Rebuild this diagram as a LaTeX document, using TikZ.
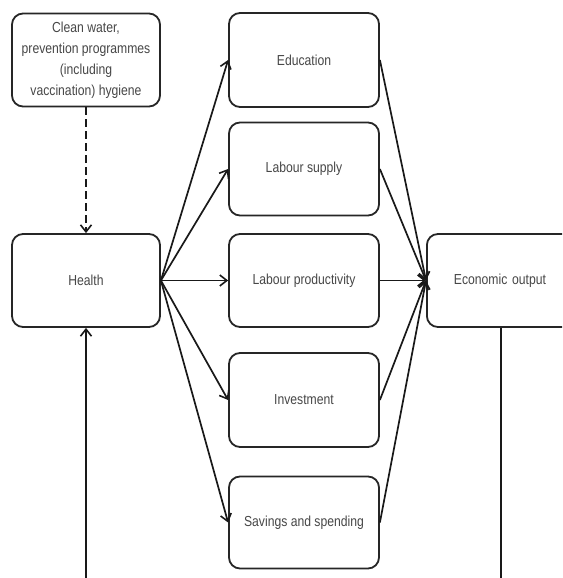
\documentclass[tikz,border=0pt]{standalone}
\usepackage{fontspec}
\setmainfont[FakeStretch=0.84]{Liberation Sans}
\usetikzlibrary{arrows.meta}
\begin{document}
\begin{tikzpicture}[x=1pt,y=-1pt,
  box/.style={draw=black!85, line width=1.8pt, rounded corners=11pt, fill=white,
    inner sep=0pt, align=center, text=black!72,
    font=\fontsize{14.5}{21}\selectfont},
  conn/.style={line width=1.7pt, draw=black!90, -{Straight Barb[length=7pt,width=11pt,line width=1.6pt]}},
  plainline/.style={line width=1.7pt, draw=black!90}]
\useasboundingbox (0,0) rectangle (562,578);
\clip (0,0) rectangle (562,578);
\node[box, minimum width=148pt, minimum height=93pt] (clean) at (86,60)
  {Clean water,\\prevention programmes\\(including\\vaccination) hygiene};
\node[box, minimum width=148pt, minimum height=93pt] (health) at (86,280.5) {Health};
\node[box, minimum width=150pt, minimum height=94pt] (edu) at (304,60) {Education};
\node[box, minimum width=150pt, minimum height=93pt] (lsup) at (304,169) {Labour supply};
\node[box, minimum width=150pt, minimum height=93pt] (lprod) at (304,280.5) {Labour productivity};
\node[box, minimum width=150pt, minimum height=94pt] (inv) at (304,400) {Investment};
\node[box, minimum width=150pt, minimum height=92pt] (sav) at (304,522.5) {Savings and spending};
\node[box, anchor=west, minimum width=170pt, text width=170pt, align=left,
  minimum height=93pt] (eco) at (426,280.5) {\hspace*{27pt}Economic output};
\coordinate (bl) at (86,582);
\coordinate (br) at (501,582);
\draw[conn, dash pattern=on 8pt off 4pt] (clean.south) -- (health.north);
\foreach \n in {edu,lsup,lprod,inv,sav}{
  \draw[conn] (health.east) -- (\n.west);
  \draw[conn] (\n.east) -- (eco.west);
}
\draw[conn] (bl) -- (health.south);
\draw[plainline] (eco.south -| br) -- (br);
\end{tikzpicture}
\end{document}
